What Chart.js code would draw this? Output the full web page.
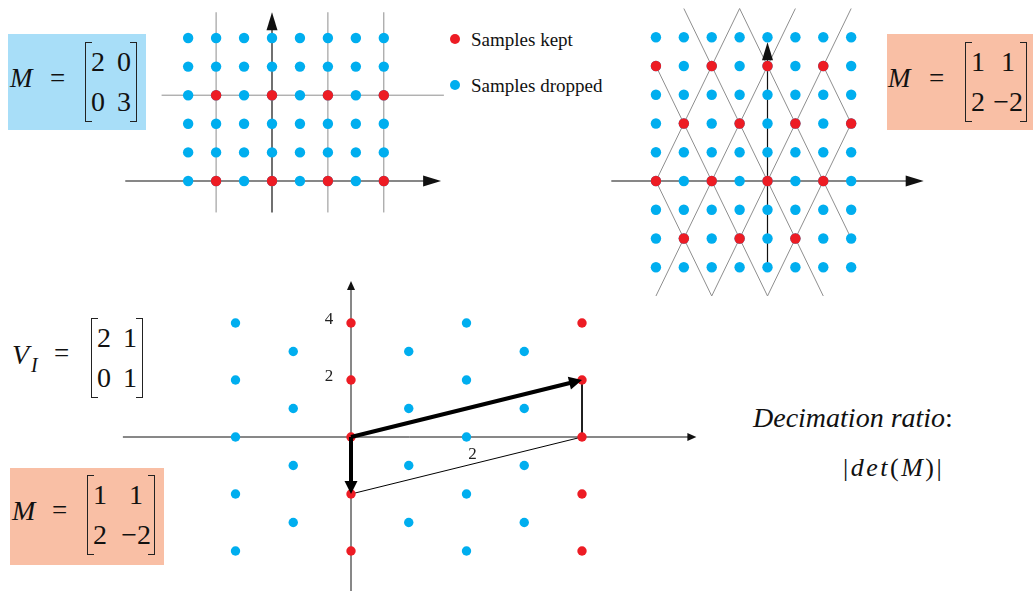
<!DOCTYPE html>
<html>
<head>
<meta charset="utf-8">
<script src="https://cdn.jsdelivr.net/npm/chart.js@4.4.1/dist/chart.umd.min.js"></script>
<style>
    body { margin: 0; background: #fff; width: 1033px; height: 591px; position: relative; overflow: hidden;
           font-family: 'Liberation Serif', 'Times New Roman', serif; color: #111; }
    .abs { position: absolute; line-height: 1; white-space: nowrap; }
    .it { font-style: italic; }
    .box { position: absolute; }
    canvas { position: absolute; }
    .mat { position: absolute; display: grid; grid-template-columns: auto auto; justify-content: space-between;
           justify-items: center; font-size: 28px; line-height: 40px; padding: 0 6px; box-sizing: border-box; }
    .mat::before, .mat::after { content: ''; position: absolute; top: 0; bottom: 0; width: 6px; border: 1.3px solid #222; }
    .mat::before { left: 0; border-right: none; }
    .mat::after { right: 0; border-left: none; }
    .dot { position: absolute; width: 10px; height: 10px; border-radius: 50%; }
    .tick { position: absolute; line-height: 1; font-size: 17px; color: #222; transform: translate(-50%, -50%); z-index: 2; }
</style>
</head>
<body>

<!-- matrix boxes -->
<div class="box" style="left:8px;top:34px;width:138px;height:96px;background:#a8def8"></div>
<div class="box" style="left:887px;top:34px;width:146px;height:96px;background:#f9bfa5"></div>
<div class="box" style="left:10px;top:468px;width:154px;height:97px;background:#f9bfa5"></div>

<span class="abs it" style="left:10px;top:65px;font-size:27px">M</span>
<span class="abs" style="left:50px;top:65px;font-size:27px">=</span>
<div class="mat" style="left:85px;top:42px;width:52px"><span>2</span><span>0</span><span>0</span><span>3</span></div>

<span class="abs it" style="left:888px;top:65px;font-size:27px">M</span>
<span class="abs" style="left:929px;top:65px;font-size:27px">=</span>
<div class="mat" style="left:965px;top:42px;width:62px;padding-right:4px"><span>1</span><span>1</span><span>2</span><span>&minus;2</span></div>

<span class="abs it" style="left:12px;top:341px;font-size:28px">V</span>
<span class="abs it" style="left:31px;top:355px;font-size:20px">I</span>
<span class="abs" style="left:54px;top:340px;font-size:27px">=</span>
<div class="mat" style="left:91px;top:318px;width:52px"><span>2</span><span>1</span><span>0</span><span>1</span></div>

<span class="abs it" style="left:12px;top:497px;font-size:28px">M</span>
<span class="abs" style="left:52px;top:497px;font-size:27px">=</span>
<div class="mat" style="left:87px;top:475px;width:68px;padding-right:4px"><span>1</span><span>1</span><span>2</span><span>&minus;2</span></div>

<!-- legend -->
<span class="dot" style="left:450px;top:34px;background:#ed1c24"></span>
<span class="abs" style="left:471px;top:30px;font-size:19px">Samples kept</span>
<span class="dot" style="left:450px;top:80px;background:#00aeef"></span>
<span class="abs" style="left:471px;top:76px;font-size:19px">Samples dropped</span>

<!-- decimation note -->
<span class="abs it" style="left:753px;top:404px;font-size:28px">Decimation ratio<span style="font-style:normal">:</span></span>
<span class="abs" style="left:843px;top:455px;font-size:26px;letter-spacing:2.5px">|<i>det</i>(<i>M</i>)|</span>

<canvas id="panel1" width="360" height="225"></canvas>
<canvas id="panel2" width="340" height="305"></canvas>
<canvas id="panel3" width="600" height="321"></canvas>

<script>
// Colours
const BLUE = '#00aeef';
const RED = '#ed1c24';
const GRAY = '#8e8e8e';
const INK = '#111111';

// Panel 1: M = [2 0; 0 3]
const p1Cols = [-3, -2, -1, 0, 1, 2, 3, 4];
const p1Rows = [0, 1, 2, 3, 4, 5];
const p1Kept = [[-2, 0], [0, 0], [2, 0], [4, 0], [-2, 3], [0, 3], [2, 3], [4, 3]];
const p1Guides = [
    [[-2, -1.1], [-2, 5.9]],
    [[2, -1.1], [2, 5.9]],
    [[4, -1.1], [4, 5.9]],
    [[-3.95, 3], [6.15, 3]]
];
const p1AxisX = [[-5.25, 0], [6.05, 0]];
const p1AxisY = [[0, -1.1], [0, 5.9]];

// Panel 2: M = [1 1; 2 -2]
const p2Cols = [-4, -3, -2, -1, 0, 1, 2, 3];
const p2Rows = [-3, -2, -1, 0, 1, 2, 3, 4, 5];
const p2Kept = [
    [-4, 4], [-2, 4], [0, 4], [2, 4],
    [-3, 2], [-1, 2], [1, 2], [3, 2],
    [-4, 0], [-2, 0], [0, 0], [2, 0],
    [-3, -2], [-1, -2], [1, -2]
];
const p2Guides = [
    [[-4, 0], [-1, 6]],
    [[-4, -4], [1, 6]],
    [[-2, -4], [3, 6]],
    [[0, -4], [3, 2]],
    [[-3, 6], [2, -4]],
    [[-1, 6], [3, -2]],
    [[-4, 4], [0, -4]],
    [[-4, 0], [-2, -4]],
    [[2, 4], [3, 2]]
];
const p2AxisX = [[-5.6, 0], [5.6, 0]];
const p2AxisY = [[0, -2.85], [0, 4.83]];

// Panel 3: V_I = [2 1; 0 1], M = [1 1; 2 -2]
const p3Dropped = [
    [-2, 4], [2, 4], [-1, 3], [1, 3], [3, 3],
    [-2, 2], [2, 2], [-1, 1], [1, 1], [3, 1],
    [-2, 0], [2, 0], [-1, -1], [1, -1], [3, -1],
    [-2, -2], [2, -2], [-1, -3], [1, -3], [3, -3],
    [-2, -4], [2, -4]
];
const p3Kept = [[0, 4], [4, 4], [0, 2], [4, 2], [0, 0], [4, 0], [0, -2], [4, -2], [0, -4], [4, -4]];
const p3BasisA = [[0, 0], [4, 2]];
const p3BasisB = [[0, 0], [0, -2]];
const p3Cell = [[4, 2], [4, 0], [0, -2]];
const p3AxisX = [[-3.95, 0], [5.98, 0]];
const p3AxisY = [[0, -5.6], [0, 5.47]];
const p3YTicks = [4, 2];
const p3XTicks = [2];

const pts = arr => arr.map(([x, y]) => ({ x, y }));
const grid = (cols, rows) => rows.flatMap(y => cols.map(x => ({ x, y })));

function dots(data, color, r, order) {
    return { data, backgroundColor: color, borderWidth: 0, pointRadius: r, pointHoverRadius: r, order, clip: false };
}

function seg(data, color, width, order, arrowHead) {
    return { data: pts(data), showLine: true, borderColor: color, borderWidth: width, pointRadius: 0,
             pointHoverRadius: 0, fill: false, order, clip: false, arrowHead };
}

// arrow head geometry at the last point of a dataset
function headGeom(chart, ds) {
    const n = ds.data.length;
    const a = ds.data[n - 2], b = ds.data[n - 1];
    const xs = chart.scales.x, ys = chart.scales.y;
    const x1 = xs.getPixelForValue(a.x), y1 = ys.getPixelForValue(a.y);
    const x2 = xs.getPixelForValue(b.x), y2 = ys.getPixelForValue(b.y);
    return { x: x2, y: y2, ang: Math.atan2(y2 - y1, x2 - x1), len: ds.arrowHead.len, w: ds.arrowHead.w };
}

const arrowHeads = {
    id: 'arrowHeads',
    beforeDatasetDraw(chart, args) {
        const ds = chart.data.datasets[args.index];
        if (!ds.arrowHead) return;
        const g = headGeom(chart, ds);
        const ctx = chart.ctx;
        const c = Math.cos(g.ang), s = Math.sin(g.ang);
        const P = (u, v) => [g.x + u * c - v * s, g.y + u * s + v * c];
        // keep the shaft from poking through the tip
        ctx.save();
        ctx.beginPath();
        ctx.rect(0, 0, chart.width, chart.height);
        const q = [P(-g.len * 0.6, -20), P(20, -20), P(20, 20), P(-g.len * 0.6, 20)];
        ctx.moveTo(q[0][0], q[0][1]);
        q.slice(1).forEach(p => ctx.lineTo(p[0], p[1]));
        ctx.closePath();
        ctx.clip('evenodd');
    },
    afterDatasetDraw(chart, args) {
        const ds = chart.data.datasets[args.index];
        if (!ds.arrowHead) return;
        const ctx = chart.ctx;
        ctx.restore();
        const g = headGeom(chart, ds);
        ctx.save();
        ctx.translate(g.x, g.y);
        ctx.rotate(g.ang);
        ctx.beginPath();
        ctx.moveTo(0, 0);
        ctx.lineTo(-g.len, -g.w / 2);
        ctx.lineTo(-g.len, g.w / 2);
        ctx.closePath();
        ctx.fillStyle = ds.borderColor;
        ctx.fill();
        ctx.restore();
    }
};

// box = canvas placement on the page, origin = pixel of (0,0), unit = pixels per step
function makePanel(id, box, origin, unit, datasets) {
    const cv = document.getElementById(id);
    cv.style.left = box.x + 'px';
    cv.style.top = box.y + 'px';
    const xmin = (box.x - origin[0]) / unit[0];
    const xmax = (box.x + box.w - origin[0]) / unit[0];
    const ymax = (origin[1] - box.y) / unit[1];
    const ymin = (origin[1] - box.y - box.h) / unit[1];
    const chart = new Chart(cv, {
        type: 'scatter',
        data: { datasets },
        options: {
            responsive: false,
            animation: false,
            events: [],
            layout: { padding: 0, autoPadding: false },
            plugins: { legend: { display: false }, tooltip: { enabled: false } },
            scales: {
                x: { type: 'linear', display: false, bounds: 'data', min: xmin, max: xmax },
                y: { type: 'linear', display: false, bounds: 'data', min: ymin, max: ymax }
            }
        },
        plugins: [arrowHeads]
    });
    chart.box = box;
    return chart;
}

// tick numbers as page text, placed from the chart's own scales
function addTicks(chart, xTicks, yTicks) {
    const xs = chart.scales.x, ys = chart.scales.y, b = chart.box;
    const put = (text, px, py) => {
        const el = document.createElement('span');
        el.className = 'tick';
        el.textContent = text;
        el.style.left = (b.x + px) + 'px';
        el.style.top = (b.y + py) + 'px';
        document.body.appendChild(el);
    };
    yTicks.forEach(v => put(String(v), xs.getPixelForValue(0) - 22, ys.getPixelForValue(v) - 5));
    xTicks.forEach(v => put(String(v), xs.getPixelForValue(v) + 6, ys.getPixelForValue(0) + 16));
}

const bigHead = { len: 18, w: 11 };
const smallHead = { len: 9, w: 8 };
const vecHead = { len: 13, w: 13 };

makePanel('panel1', { x: 100, y: 0, w: 360, h: 225 }, [272, 181], [27.95, 28.6], [
    dots(pts(p1Kept), RED, 5.2, 0),
    dots(grid(p1Cols, p1Rows), BLUE, 5.2, 1),
    seg(p1AxisX, INK, 1.2, 2, bigHead),
    seg(p1AxisY, INK, 1.2, 2, bigHead),
    ...p1Guides.map(g => seg(g, GRAY, 1, 3))
]);

makePanel('panel2', { x: 600, y: 0, w: 340, h: 305 }, [767.5, 181], [27.89, 28.75], [
    dots(pts(p2Kept), RED, 5.2, 0),
    dots(grid(p2Cols, p2Rows), BLUE, 5.2, 1),
    seg(p2AxisX, INK, 1.2, 2, bigHead),
    seg(p2AxisY, INK, 1.2, 2, bigHead),
    ...p2Guides.map(g => seg(g, GRAY, 1, 3))
]);

const panel3 = makePanel('panel3', { x: 110, y: 270, w: 600, h: 321 }, [351, 437], [57.75, 28.5], [
    dots(pts(p3Kept), RED, 4.7, 1),
    dots(pts(p3Dropped), BLUE, 4.7, 1),
    seg(p3BasisA, '#000', 4, 0, vecHead),
    seg(p3BasisB, '#000', 4, 0, vecHead),
    seg(p3Cell, '#000', 1, 2),
    seg(p3AxisX, INK, 1, 3, smallHead),
    seg(p3AxisY, INK, 1, 3, smallHead)
]);
addTicks(panel3, p3XTicks, p3YTicks);
</script>
</body>
</html>
